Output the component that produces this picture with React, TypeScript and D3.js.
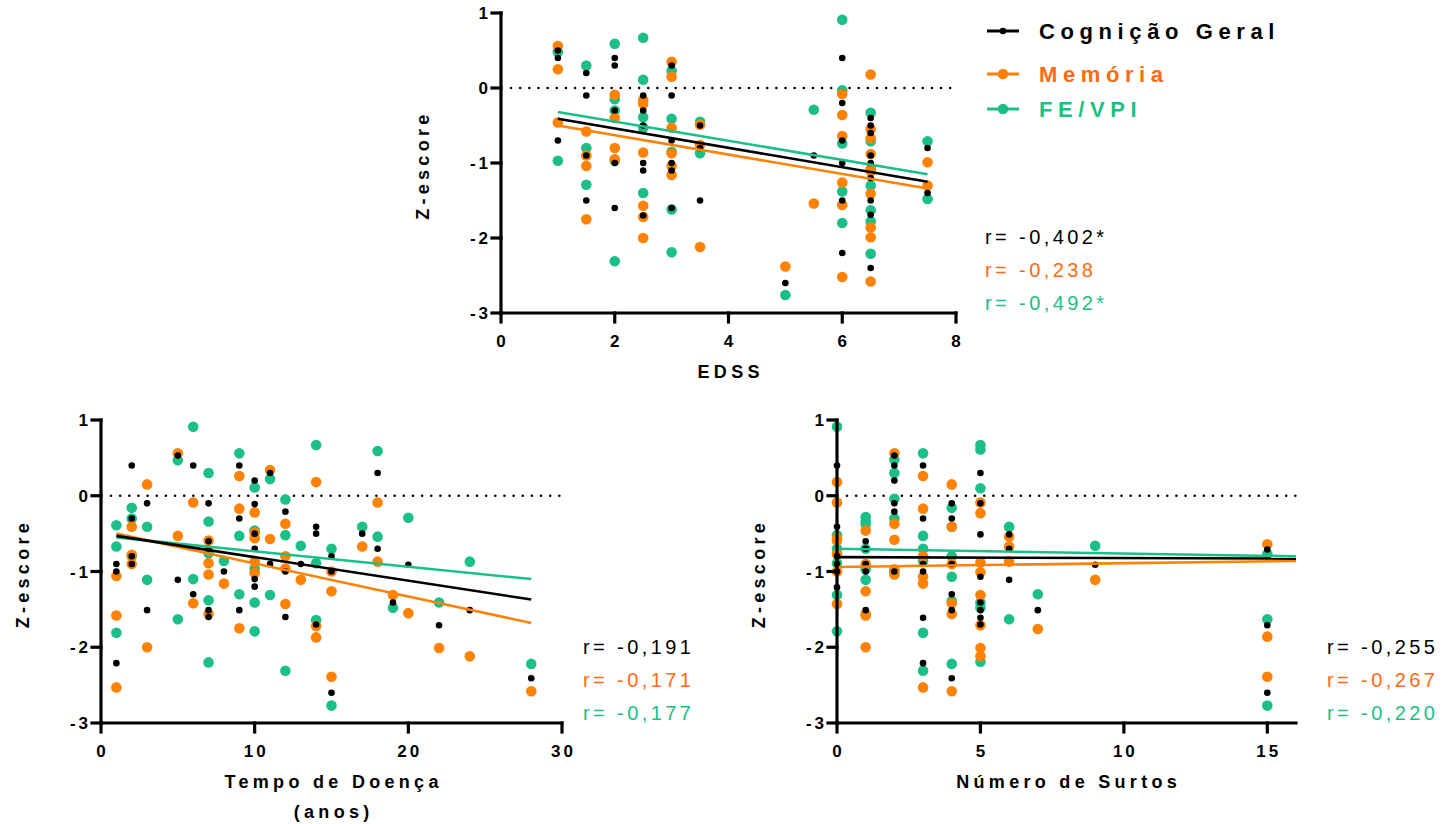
import React from "react";
import * as d3 from "d3";

// ---- data ----
const zTicks = [-3, -2, -1, 0, 1];

const edssTicks = [0, 2, 4, 6, 8];
const edssGeral = [
  [1, 0.5], [1, 0.4], [1, -0.7],
  [1.5, 0.2], [1.5, -0.1], [1.5, -0.9], [1.5, -1.5],
  [2, 0.4], [2, 0.3], [2, -0.3], [2, -1.0], [2, -1.6],
  [2.5, -0.1], [2.5, -0.3], [2.5, -0.5], [2.5, -1.0], [2.5, -1.1], [2.5, -1.7],
  [3, 0.3], [3, -0.1], [3, -0.7], [3, -1.0], [3, -1.1], [3, -1.6],
  [3.5, -0.5], [3.5, -0.8], [3.5, -1.5],
  [5, -2.6], [5.5, -0.9],
  [6, 0.4], [6, -0.2], [6, -0.7], [6, -1.0], [6, -1.5], [6, -2.2],
  [6.5, -0.4], [6.5, -0.5], [6.5, -0.6], [6.5, -0.9], [6.5, -1.0], [6.5, -1.2], [6.5, -1.5], [6.5, -1.69], [6.5, -2.4],
  [7.5, -0.8], [7.5, -1.4],
];
const edssMemoria = [
  [1, 0.56], [1, 0.25], [1, -0.46],
  [1.5, -0.58], [1.5, -0.9], [1.5, -1.04], [1.5, -1.75],
  [2, -0.09], [2, -0.4], [2, -0.8], [2, -0.95],
  [2.5, -0.16], [2.5, -0.21], [2.5, -0.86], [2.5, -1.57], [2.5, -1.72], [2.5, -2.0],
  [3, 0.35], [3, 0.15], [3, -0.53], [3, -0.87], [3, -1.04], [3, -1.16],
  [3.5, -0.49], [3.5, -0.76], [3.5, -2.12],
  [5, -2.38], [5.5, -1.54],
  [6, -0.08], [6, -0.36], [6, -0.64], [6, -1.26], [6, -1.56], [6, -2.52],
  [6.5, 0.18], [6.5, -0.55], [6.5, -0.67], [6.5, -0.88], [6.5, -1.08], [6.5, -1.11], [6.5, -1.41], [6.5, -1.86], [6.5, -1.99], [6.5, -2.58],
  [7.5, -0.99], [7.5, -1.3],
];
const edssFe = [
  [1, 0.48], [1, -0.97],
  [1.5, 0.3], [1.5, -0.8], [1.5, -1.29],
  [2, 0.59], [2, -0.15], [2, -0.3], [2, -0.97], [2, -2.31],
  [2.5, 0.67], [2.5, 0.11], [2.5, -0.39], [2.5, -0.53], [2.5, -1.4],
  [3, 0.23], [3, -0.41], [3, -0.85], [3, -1.62], [3, -2.19],
  [3.5, -0.45], [3.5, -0.87],
  [5, -2.76], [5.5, -0.29],
  [6, 0.91], [6, -0.03], [6, -0.74], [6, -1.38], [6, -1.8],
  [6.5, -0.33], [6.5, -0.71], [6.5, -1.3], [6.5, -1.63], [6.5, -1.78], [6.5, -2.21],
  [7.5, -0.71], [7.5, -1.48],
];
// fitted lines: [xStart, yStart, xEnd, yEnd]
const edssFits = [[1, -0.41, 7.5, -1.25], [1, -0.5, 7.5, -1.34], [1, -0.32, 7.5, -1.15]];
const edssR = ["r= -0,402*", "r= -0,238", "r= -0,492*"];

const tempoTicks = [0, 10, 20, 30];
const tempoGeral = [
  [1, -0.9], [1, -1.0], [1, -2.21],
  [2, 0.4], [2, -0.3], [2, -0.8], [2, -0.9],
  [3, -0.1], [3, -1.51],
  [5, 0.53], [5, -1.11],
  [6, 0.4], [6, -1.3],
  [7, -0.1], [7, -0.6], [7, -0.7], [7, -1.51], [7, -1.6],
  [8, -1.0],
  [9, 0.4], [9, -0.3], [9, -1.51],
  [10, 0.2], [10, -0.11], [10, -0.5], [10, -0.7], [10, -1.1], [10, -1.2],
  [11, 0.3], [11, -0.9],
  [12, -0.21], [12, -1.0], [12, -1.6],
  [13, -0.9],
  [14, -0.41], [14, -0.5], [14, -1.7],
  [15, -0.8], [15, -1.0], [15, -2.6],
  [17, -0.5], [18, 0.3], [18, -0.7], [19, -1.41], [20, -0.91], [22, -1.71], [24, -1.51], [28, -2.41],
];
const tempoMemoria = [
  [1, -1.06], [1, -1.58], [1, -2.53],
  [2, -0.41], [2, -0.78], [2, -0.9],
  [3, 0.15], [3, -2.0],
  [5, 0.56], [5, -0.53],
  [6, -0.09], [6, -1.42],
  [7, -0.59], [7, -0.89], [7, -1.04], [7, -1.56],
  [8, -1.16],
  [9, 0.26], [9, -0.17], [9, -1.75],
  [10, -0.22], [10, -0.49], [10, -0.56], [10, -0.87], [10, -1.02],
  [11, 0.34], [11, -0.57],
  [12, -0.37], [12, -0.8], [12, -0.96], [12, -1.43],
  [13, -1.11],
  [14, 0.18], [14, -1.72], [14, -1.87],
  [15, -1.0], [15, -1.26], [15, -2.39],
  [17, -0.67], [18, -0.09], [18, -0.87], [19, -1.31], [20, -1.55], [22, -2.01], [24, -2.12], [28, -2.58],
];
const tempoFe = [
  [1, -0.39], [1, -0.67], [1, -1.81],
  [2, -0.16], [2, -0.3], [2, -0.8],
  [3, -0.41], [3, -1.11],
  [5, 0.47], [5, -1.63],
  [6, 0.91], [6, -1.1],
  [7, 0.3], [7, -0.34], [7, -0.76], [7, -1.38], [7, -2.2],
  [8, -0.86],
  [9, 0.56], [9, -0.53], [9, -1.3],
  [10, 0.11], [10, -0.46], [10, -0.96], [10, -1.41], [10, -1.79],
  [11, 0.22], [11, -1.31],
  [12, -0.05], [12, -0.52], [12, -2.31],
  [13, -0.66],
  [14, 0.67], [14, -0.89], [14, -1.64],
  [15, -0.7], [15, -2.77],
  [17, -0.41], [18, 0.59], [18, -0.54], [19, -1.48], [20, -0.29], [22, -1.41], [24, -0.87], [28, -2.22],
];
const tempoFits = [[1, -0.53, 28, -1.37], [1, -0.5, 28, -1.68], [1, -0.55, 28, -1.1]];
const tempoR = ["r= -0,191", "r= -0,171", "r= -0,177"];

const surtosTicks = [0, 5, 10, 15];
const surtosGeral = [
  [0, 0.4], [0, -0.41], [0, -0.8], [0, -0.9], [0, -1.0], [0, -1.21],
  [1, -0.6], [1, -0.7], [1, -0.9], [1, -1.0], [1, -1.51],
  [2, 0.53], [2, 0.4], [2, 0.2], [2, -0.1], [2, -0.21], [2, -1.0],
  [3, 0.4], [3, -0.3], [3, -0.9], [3, -1.0], [3, -1.61], [3, -2.21],
  [4, -0.1], [4, -0.3], [4, -0.9], [4, -1.3], [4, -1.51], [4, -2.41],
  [5, 0.3], [5, -0.1], [5, -0.51], [5, -1.07], [5, -1.41], [5, -1.51], [5, -1.61], [5, -1.7],
  [6, -0.51], [6, -0.7], [6, -1.11],
  [7, -1.51], [9, -0.91],
  [15, -0.71], [15, -1.71], [15, -2.6],
];
const surtosMemoria = [
  [0, 0.18], [0, -0.09], [0, -0.56], [0, -0.59], [0, -0.77], [0, -1.0], [0, -1.43],
  [1, -0.46], [1, -0.9], [1, -1.26], [1, -1.56], [1, -1.58], [1, -2.0],
  [2, 0.56], [2, -0.37], [2, -0.58], [2, -0.97], [2, -1.04],
  [3, 0.26], [3, -0.17], [3, -0.8], [3, -1.07], [3, -1.16], [3, -2.53],
  [4, 0.15], [4, -0.41], [4, -0.9], [4, -1.42], [4, -1.56], [4, -2.58],
  [5, -0.09], [5, -0.23], [5, -0.88], [5, -1.01], [5, -1.31], [5, -1.71], [5, -2.01], [5, -2.12],
  [6, -0.54], [6, -0.67], [6, -0.87],
  [7, -1.76], [9, -1.11],
  [15, -0.64], [15, -1.86], [15, -2.39],
];
const surtosFe = [
  [0, 0.91], [0, -0.52], [0, -0.7], [0, -0.89], [0, -1.31], [0, -1.79],
  [1, -0.28], [1, -0.34], [1, -0.38], [1, -0.7], [1, -0.97], [1, -1.11],
  [2, 0.48], [2, 0.3], [2, -0.04], [2, -0.3], [2, -1.0],
  [3, 0.56], [3, -0.53], [3, -0.7], [3, -0.86], [3, -1.81], [3, -2.31],
  [4, -0.16], [4, -0.41], [4, -0.8], [4, -1.07], [4, -1.39], [4, -2.22],
  [5, 0.67], [5, 0.61], [5, 0.1], [5, -1.41], [5, -1.48], [5, -2.19],
  [6, -0.41], [6, -1.63],
  [7, -1.3], [9, -0.66],
  [15, -0.77], [15, -1.63], [15, -2.77],
];
const surtosFits = [[0, -0.81, 16, -0.83], [0, -0.94, 16, -0.86], [0, -0.7, 16, -0.8]];
const surtosR = ["r= -0,255", "r= -0,267", "r= -0,220"];

const legendLabels = ["Cognição Geral", "Memória", "FE/VPI"];

// ---- styles ----
const FONT = "'Liberation Sans', Arial, sans-serif";
const markColors = ["#000000", "#FF8205", "#1CBF85"];
const textColors = ["#000000", "#FF6A12", "#1CBF85"];
const markR = [3.3, 5.3, 5.3];

type Pt = number[];

function Panel({ left, right, top, bottom, xDomain, xTicks, xLabel, series, fits, rTexts, rX }: {
  left: number; right: number; top: number; bottom: number;
  xDomain: number[]; xTicks: number[]; xLabel: string[];
  series: Pt[][]; fits: number[][]; rTexts: string[]; rX: number;
}) {
  const x = d3.scaleLinear().domain(xDomain).range([left, right]);
  const y = d3.scaleLinear().domain([-3, 1]).range([bottom, top]);
  const line = d3.line<Pt>().x((d) => x(d[0])).y((d) => y(d[1]));
  const drawOrder = [2, 1, 0];
  const tickLs = 3;
  const titleLs = 4.3;
  return (
    <g>
      {/* zero reference */}
      <line x1={left + 10} x2={right} y1={y(0)} y2={y(0)} stroke="#000" strokeWidth={2.6}
        strokeDasharray="0 9.15" strokeLinecap="round" />
      {/* points */}
      {drawOrder.map((si) => (
        <g key={"s" + si} fill={markColors[si]}>
          {series[si].map((d, i) => (
            <circle key={i} cx={x(d[0])} cy={y(d[1])} r={markR[si]} />
          ))}
        </g>
      ))}
      {/* fitted lines */}
      {drawOrder.map((si) => {
        const f = fits[si];
        return (
          <path key={"f" + si} d={line([[f[0], f[1]], [f[2], f[3]]]) || ""}
            stroke={markColors[si]} strokeWidth={2.6} fill="none" />
        );
      })}
      {/* axes */}
      <g stroke="#000" strokeWidth={3.2} strokeLinecap="square">
        <line x1={left} x2={left} y1={top} y2={bottom} />
        <line x1={left} x2={right} y1={bottom} y2={bottom} />
        {zTicks.map((t) => (
          <line key={"yt" + t} x1={left - 9} x2={left} y1={y(t)} y2={y(t)} />
        ))}
        {xTicks.map((t) => (
          <line key={"xt" + t} x1={x(t)} x2={x(t)} y1={bottom} y2={bottom + 9} />
        ))}
      </g>
      <g fontFamily={FONT} fontWeight="bold" fontSize={17} fill="#000" letterSpacing={tickLs}>
        {zTicks.map((t) => (
          <text key={"yl" + t} x={left - 13 + tickLs} y={y(t) + 6} textAnchor="end">{t}</text>
        ))}
        {xTicks.map((t) => (
          <text key={"xl" + t} x={x(t) + tickLs / 2} y={bottom + 34} textAnchor="middle">{t}</text>
        ))}
      </g>
      <g fontFamily={FONT} fontWeight="bold" fontSize={18} fill="#000" letterSpacing={titleLs}>
        <text transform={`translate(${left - 72},${(top + bottom) / 2 + titleLs / 2}) rotate(-90)`}
          textAnchor="middle">Z-escore</text>
        {xLabel.map((s, i) => (
          <text key={s} x={(left + right) / 2 + titleLs / 2} y={bottom + 65 + i * 30} textAnchor="middle">{s}</text>
        ))}
      </g>
      <g fontFamily={FONT} fontSize={20} letterSpacing={3.4}>
        {rTexts.map((s, i) => (
          <text key={s} x={rX} y={bottom - 69 + i * 33} fill={textColors[i]}>{s}</text>
        ))}
      </g>
    </g>
  );
}

function Legend({ x0, ys }: { x0: number; ys: number[] }) {
  return (
    <g>
      {legendLabels.map((s, i) => (
        <g key={s}>
          <line x1={x0} x2={x0 + 32} y1={ys[i]} y2={ys[i]} stroke={markColors[i]} strokeWidth={3} />
          <circle cx={x0 + 16} cy={ys[i]} r={markR[i]} fill={markColors[i]} />
          <text x={x0 + 52} y={ys[i] + 8} fontFamily={FONT} fontWeight="bold" fontSize={22}
            letterSpacing={5.6} fill={textColors[i]}>{s}</text>
        </g>
      ))}
    </g>
  );
}

export default function App() {
  return (
    <svg width={1445} height={824} style={{ position: "absolute", left: 0, top: 0, background: "#fff" }}>
      <Panel left={501} right={956} top={13} bottom={313} xDomain={[0, 8]} xTicks={edssTicks}
        xLabel={["EDSS"]} series={[edssGeral, edssMemoria, edssFe]} fits={edssFits}
        rTexts={edssR} rX={985} />
      <Panel left={101} right={562} top={420} bottom={723} xDomain={[0, 30]} xTicks={tempoTicks}
        xLabel={["Tempo de Doença", "(anos)"]} series={[tempoGeral, tempoMemoria, tempoFe]} fits={tempoFits}
        rTexts={tempoR} rX={583} />
      <Panel left={837} right={1296} top={420} bottom={723} xDomain={[0, 16]} xTicks={surtosTicks}
        xLabel={["Número de Surtos"]} series={[surtosGeral, surtosMemoria, surtosFe]} fits={surtosFits}
        rTexts={surtosR} rX={1327} />
      <Legend x0={987} ys={[31, 74, 109]} />
    </svg>
  );
}
